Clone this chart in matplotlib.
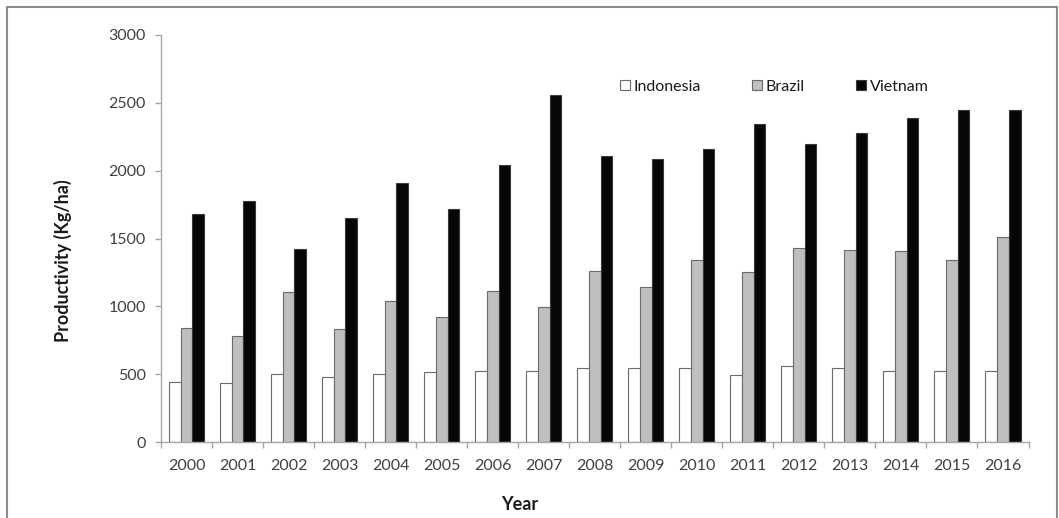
import matplotlib
matplotlib.use("Agg")
import matplotlib.pyplot as plt
import numpy as np
from matplotlib.patches import Rectangle

years = ["2000", "2001", "2002", "2003", "2004", "2005", "2006", "2007", "2008",
         "2009", "2010", "2011", "2012", "2013", "2014", "2015", "2016"]
indonesia = [444, 437, 499, 479, 499, 514, 521, 521, 543, 543, 543, 492, 560, 543, 521, 521, 521]
brazil = [840, 779, 1103, 830, 1039, 921, 1115, 997, 1258, 1145, 1343, 1255, 1432, 1417, 1405, 1339, 1513]
vietnam = [1683, 1774, 1420, 1648, 1906, 1719, 2041, 2557, 2110, 2083, 2159, 2346, 2200, 2281, 2390, 2444, 2444]
series_names = ["Indonesia", "Brazil", "Vietnam"]
yticks = [0, 500, 1000, 1500, 2000, 2500, 3000]

plt.rcParams['font.family'] = ['Lato', 'DejaVu Sans']

W, H = 1059, 518
fig = plt.figure(figsize=(W / 100, H / 100), dpi=100)
fig.patch.set_facecolor('white')
ax = fig.add_axes([161 / W, 1 - 442 / H, (1028.5 - 161) / W, (442 - 35) / H])

x = np.arange(len(years))
bw = 0.229
ec = '#6a6a6a'
lw = 0.8
ax.bar(x - bw, indonesia, bw, color='white', edgecolor=ec, linewidth=lw, label=series_names[0])
ax.bar(x, brazil, bw, color='#bfbfbf', edgecolor=ec, linewidth=lw, label=series_names[1])
ax.bar(x + bw, vietnam, bw, color='#060606', edgecolor='#3a3a3a', linewidth=lw, label=series_names[2])

ax.set_xlim(-0.5, len(years) - 0.5)
ax.set_ylim(0, 3000)
ax.set_yticks(yticks)
ax.set_yticklabels([str(v) for v in yticks])

ax.set_xticks(np.arange(len(years) + 1) - 0.5)
ax.set_xticklabels([])
ax.set_xticks(x, minor=True)
ax.set_xticklabels(years, minor=True)

axis_col = '#a6a6a6'
for s in ['top', 'right']:
    ax.spines[s].set_visible(False)
for s in ['left', 'bottom']:
    ax.spines[s].set_color(axis_col)
    ax.spines[s].set_linewidth(1.0)

ax.tick_params(axis='y', which='major', direction='out', length=4.5, width=1.0,
               color=axis_col, pad=6.5, labelsize=11.5, labelcolor='#404040')
ax.tick_params(axis='x', which='major', direction='out', length=4, width=1.0, color=axis_col)
ax.tick_params(axis='x', which='minor', length=0, pad=12, labelsize=11.5, labelcolor='#404040')

fig.text(63 / W, 1 - 261 / H, "Productivity (Kg/ha)", rotation=90, ha='center', va='center',
         fontsize=13, fontweight='bold', color='#1a1a1a')
fig.text(520 / W, 1 - 505 / H, "Year", ha='center', va='center',
         fontsize=13, fontweight='bold', color='#1a1a1a')

leg = ax.legend(ncol=3, loc='center', bbox_to_anchor=((774.5 - 161) / 867.5, (442 - 87) / 407),
                frameon=False, fontsize=11.5, handlelength=0.6, handleheight=0.6,
                handletextpad=0.25, columnspacing=3.2, borderaxespad=0)
for t in leg.get_texts():
    t.set_color('#1a1a1a')

fig.patches.append(Rectangle((7 / W, -0.2), (1057 - 7) / W, 1.2 - 7 / H,
                             transform=fig.transFigure, fill=False,
                             edgecolor='#8c8c8c', linewidth=1.5))

fig.savefig("out.png", dpi=100)
